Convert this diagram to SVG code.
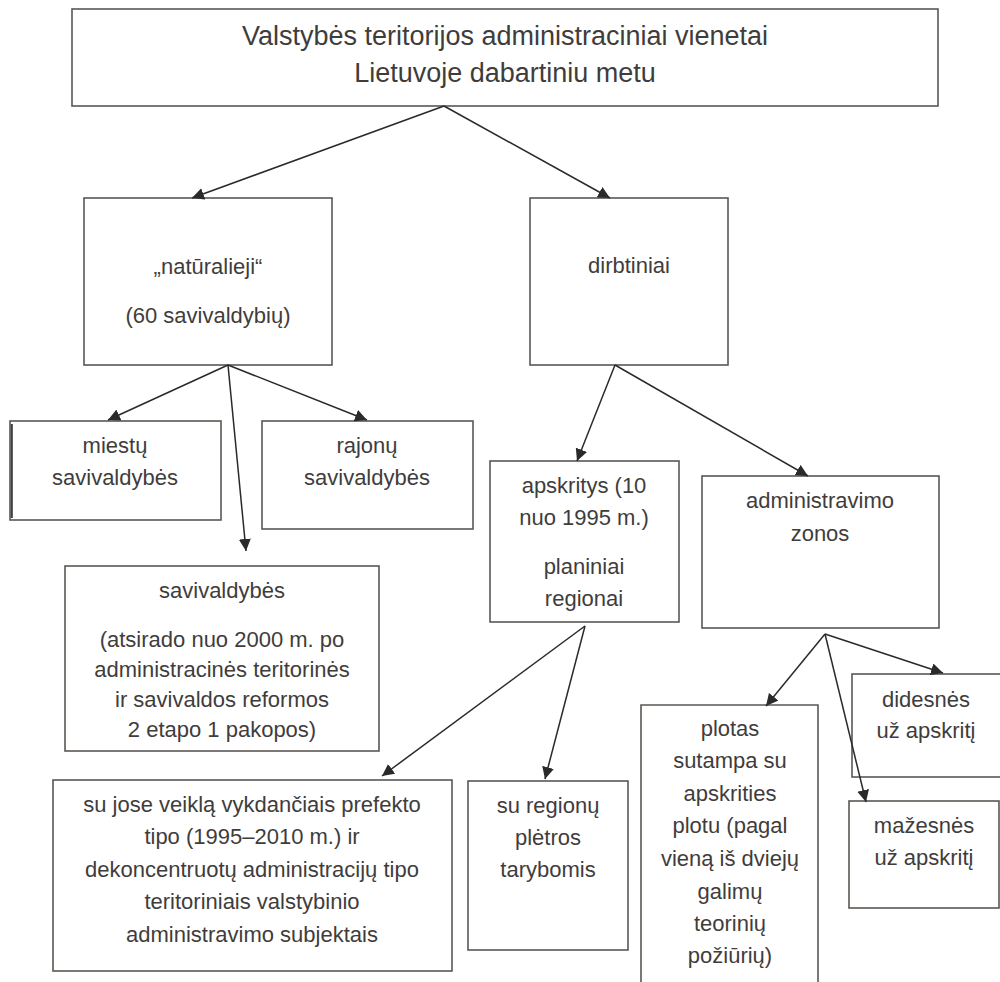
<svg xmlns="http://www.w3.org/2000/svg" width="1000" height="982" viewBox="0 0 1000 982">
<style>
.box{fill:#ffffff;stroke:#5b5753;stroke-width:1.6}
.t{font-family:"Liberation Sans",Arial,sans-serif;font-size:22px;fill:#3f3d3b;text-anchor:middle}
.title{font-size:27px}
.c{stroke:#2a2a2a;stroke-width:1.5;fill:none;marker-end:url(#ah)}
</style>
<defs>
<marker id="ah" viewBox="0 0 12 12" refX="12" refY="6" markerWidth="12" markerHeight="12" orient="auto" markerUnits="userSpaceOnUse">
<path d="M0,0 L12,6 L0,12 z" fill="#2a2a2a"/>
</marker>
</defs>
<rect width="1000" height="982" fill="#ffffff"/>

<g id="root">
<rect class="box" x="72" y="9" width="866" height="97"/>
<text class="t title" x="505" y="45">Valstybės teritorijos administraciniai vienetai</text>
<text class="t title" x="505" y="82">Lietuvoje dabartiniu metu</text>
</g>

<g id="naturalieji">
<rect class="box" x="84" y="198" width="248" height="167"/>
<text class="t" x="208" y="274">„natūralieji“</text>
<text class="t" x="208" y="323">(60 savivaldybių)</text>
</g>

<g id="dirbtiniai">
<rect class="box" x="530" y="198" width="198" height="167"/>
<text class="t" x="629" y="273">dirbtiniai</text>
</g>

<g id="miestu">
<rect class="box" x="10" y="421" width="211" height="99"/>
<line x1="11.8" y1="424" x2="11.8" y2="518" stroke="#3f3d3b" stroke-width="2"/>
<text class="t" x="115" y="453">miestų</text>
<text class="t" x="115" y="485">savivaldybės</text>
</g>

<g id="rajonu">
<rect class="box" x="262" y="421" width="211" height="108"/>
<text class="t" x="367" y="453">rajonų</text>
<text class="t" x="367" y="485">savivaldybės</text>
</g>

<g id="savivaldybes">
<rect class="box" x="65" y="566" width="314" height="185"/>
<text class="t" x="222" y="598">savivaldybės</text>
<text class="t" x="222" y="647">(atsirado nuo 2000 m. po</text>
<text class="t" x="222" y="677">administracinės teritorinės</text>
<text class="t" x="222" y="707">ir savivaldos reformos</text>
<text class="t" x="222" y="737">2 etapo 1 pakopos)</text>
</g>

<g id="apskritys">
<rect class="box" x="490" y="461" width="189" height="161"/>
<text class="t" x="584" y="493">apskritys (10</text>
<text class="t" x="584" y="525">nuo 1995 m.)</text>
<text class="t" x="584" y="574">planiniai</text>
<text class="t" x="584" y="606">regionai</text>
</g>

<g id="admin-zonos">
<rect class="box" x="702" y="476" width="237" height="152"/>
<text class="t" x="820" y="508">administravimo</text>
<text class="t" x="820" y="541">zonos</text>
</g>

<g id="prefekto">
<rect class="box" x="53" y="780" width="399" height="191"/>
<text class="t" x="252" y="812">su jose veiklą vykdančiais prefekto</text>
<text class="t" x="252" y="844">tipo (1995–2010 m.) ir</text>
<text class="t" x="252" y="877">dekoncentruotų administracijų tipo</text>
<text class="t" x="252" y="909">teritoriniais valstybinio</text>
<text class="t" x="252" y="942">administravimo subjektais</text>
</g>

<g id="regionu-tarybos">
<rect class="box" x="468" y="781" width="160" height="169"/>
<text class="t" x="548" y="813">su regionų</text>
<text class="t" x="548" y="845">plėtros</text>
<text class="t" x="548" y="877">tarybomis</text>
</g>

<g id="plotas">
<path class="box" d="M641,990 L641,705 L818,705 L818,990"/>
<text class="t" x="730" y="736">plotas</text>
<text class="t" x="730" y="768">sutampa su</text>
<text class="t" x="730" y="801">apskrities</text>
<text class="t" x="730" y="833">plotu (pagal</text>
<text class="t" x="730" y="866">vieną iš dviejų</text>
<text class="t" x="730" y="899">galimų</text>
<text class="t" x="730" y="931">teorinių</text>
<text class="t" x="730" y="963">požiūrių)</text>
</g>

<g id="didesnes">
<rect class="box" x="852" y="674" width="152" height="103"/>
<text class="t" x="926" y="707">didesnės</text>
<text class="t" x="926" y="738">už apskritį</text>
</g>

<g id="mazesnes">
<rect class="box" x="849" y="801" width="150" height="107"/>
<text class="t" x="924" y="833">mažesnės</text>
<text class="t" x="924" y="865">už apskritį</text>
</g>

<g id="connectors">
<line class="c" x1="444" y1="106" x2="192" y2="198"/>
<line class="c" x1="444" y1="106" x2="610" y2="198"/>
<line class="c" x1="228" y1="365" x2="108" y2="420"/>
<line class="c" x1="228" y1="365" x2="367" y2="420"/>
<line class="c" x1="228" y1="365" x2="246" y2="551"/>
<line class="c" x1="615" y1="365" x2="577" y2="461"/>
<line class="c" x1="615" y1="365" x2="808" y2="476"/>
<line class="c" x1="585" y1="626" x2="382" y2="776"/>
<line class="c" x1="585" y1="626" x2="545" y2="779"/>
<line class="c" x1="825" y1="634" x2="766" y2="706"/>
<line class="c" x1="825" y1="634" x2="943" y2="673"/>
<line class="c" x1="825" y1="634" x2="866" y2="802"/>
</g>
</svg>
